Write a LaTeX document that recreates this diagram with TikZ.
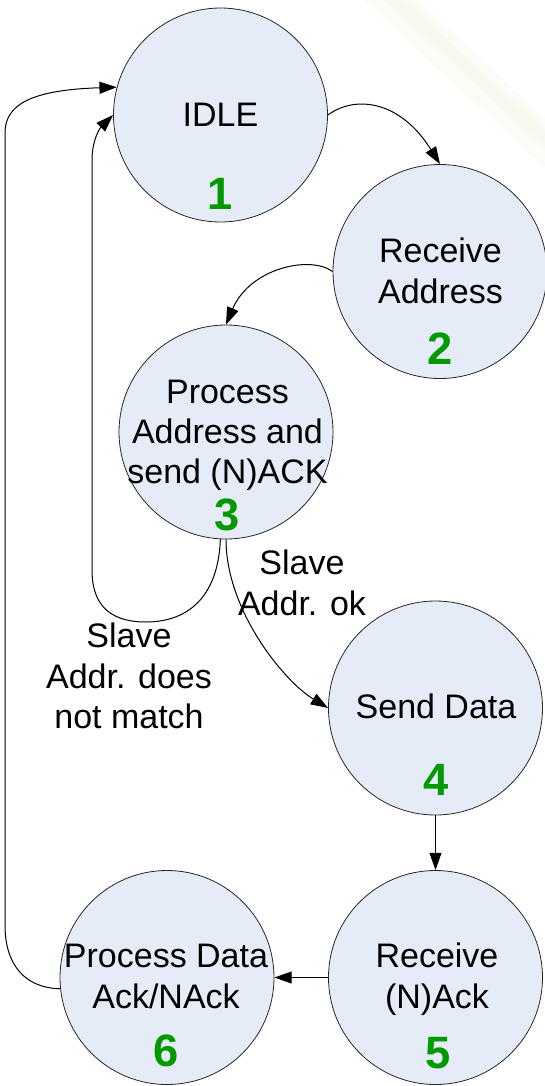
\documentclass[tikz,border=0pt]{standalone}
\usepackage{fontspec}
\setmainfont{Liberation Sans}
\usetikzlibrary{arrows.meta}
\definecolor{statefill}{HTML}{E6ECF7}
\definecolor{stategreen}{HTML}{009A00}
\definecolor{hazesoft}{HTML}{FCFCF7}
\definecolor{hazemid}{HTML}{F7F8EE}

\begin{document}
\begin{tikzpicture}[x=0.75pt,y=-0.75pt,
  state/.style={circle,draw=black!85,fill=statefill,line width=0.6pt,
                minimum size=160.5pt,inner sep=0pt},
  lbl/.style={anchor=base,inner sep=0pt,font=\fontsize{25.5}{30}\selectfont},
  num/.style={anchor=base,inner sep=0pt,text=stategreen,
              font=\fontsize{34}{40}\selectfont\bfseries},
  conn/.style={draw,line width=0.75pt,-{Triangle[length=13pt,width=9pt]}}]

\useasboundingbox (0,0) rectangle (545,1086);

% faint streak in the upper right corner
\draw[line width=28pt,hazesoft,line cap=round] (380,-10) -- (552,150);
\draw[line width=10pt,hazemid,line cap=round] (388,-6) -- (552,146);

% states
\node[state] (s1) at (220.5,115) {};
\node[state] (s2) at (440,271.5) {};
\node[state] (s3) at (226,432) {};
\node[state] (s4) at (435.5,708) {};
\node[state] (s5) at (435.5,977.5) {};
\node[state] (s6) at (167,977.5) {};

% state texts
\node[lbl] (t1)  at (220.5,126) {IDLE};
\node[num] (n1)  at (220,209) {1};

\node[lbl] (t2a) at (440.5,262) {Receive};
\node[lbl] (t2b) at (440.5,303) {Address};
\node[num] (n2)  at (440.5,364) {2};

\node[lbl] (t3a) at (227.5,403) {Process};
\node[lbl] (t3b) at (227.5,443) {Address and};
\node[lbl] (t3c) at (227.5,483) {send (N)ACK};
\node[num] (n3)  at (227.5,530) {3};

\node[lbl] (t4)  at (436,718) {Send Data};
\node[num] (n4)  at (436,795) {4};

\node[lbl] (t5a) at (437,967) {Receive};
\node[lbl] (t5b) at (437,1008) {(N)Ack};
\node[num] (n5)  at (438,1068) {5};

\node[lbl] (t6a) at (166,967) {Process Data};
\node[lbl] (t6b) at (166,1008) {Ack/NAck};
\node[num] (n6)  at (166,1066) {6};

% transition labels
\node[lbl] (ok1) at (302,574) {Slave};
\node[lbl] (ok2) at (302,615) {Addr. ok};
\node[lbl] (nm1) at (129,647) {Slave};
\node[lbl] (nm2) at (129,688) {Addr. does};
\node[lbl] (nm3) at (129,728) {not match};

% transitions
\draw[conn] (s1.east) .. controls (355,95) and (400,100) .. (s2.north);
\draw[conn] (s2.west) .. controls (310,255) and (250,268) .. (s3.north);
\draw[conn] (s3.south) .. controls (226,610) and (283.5,681) .. (s4.west);
\draw[conn] (s3.-93) .. controls (218,600) and (185,622) .. (146,622)
            .. controls (105,622) and (92,600) .. (92,570) -- (92,160)
            .. controls (92,140) and (100,128) .. (s1.west);
\draw[conn] (s4) -- (s5);
\draw[conn] (s5) -- (s6);
\draw[conn] (s6.186) .. controls (25,988) and (5,965) .. (5,925) -- (5,133)
            .. controls (5,105) and (30,90) .. (s1.165);
\end{tikzpicture}
\end{document}
